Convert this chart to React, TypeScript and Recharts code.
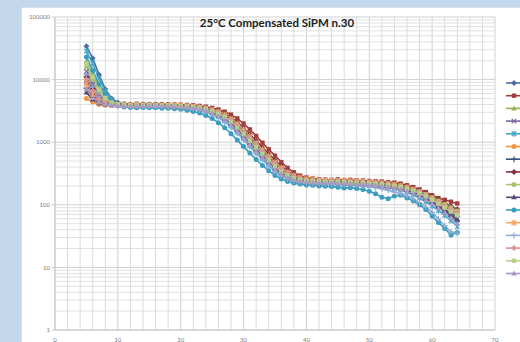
import React from "react";
import {
  LineChart,
  Line,
  XAxis,
  YAxis,
  CartesianGrid,
  ReferenceLine,
  Legend,
} from "recharts";

// x positions (measurement index)
const xs = [
  5, 6, 7, 8, 9, 10, 11, 12, 13, 14, 15, 16, 17, 18, 19, 20, 21, 22, 23, 24,
  25, 26, 27, 28, 29, 30, 31, 32, 33, 34, 35, 36, 37, 38, 39, 40, 41, 42, 43, 44,
  45, 46, 47, 48, 49, 50, 51, 52, 53, 54, 55, 56, 57, 58, 59, 60, 61, 62, 63, 64,
];

const s1 = [34000, 22000, 12000, 7000, 5000, 4300, 4050, 3980, 3950, 4000, 3930, 3950, 3900, 3920, 3850, 3800, 3760, 3660, 3540, 3370, 3130, 2820, 2470, 2060, 1660, 1300, 1010, 790, 620, 495, 400, 330, 286, 262, 250, 244, 238, 236, 230, 233, 228, 231, 226, 224, 222, 216, 214, 208, 204, 196, 188, 176, 160, 144, 126, 108, 92, 78, 66, 55];
const s2 = [9000, 6000, 4800, 4300, 4150, 4100, 4080, 4050, 4100, 4040, 4060, 4020, 4050, 4000, 3990, 3960, 3930, 3880, 3800, 3690, 3530, 3330, 3070, 2760, 2400, 1990, 1600, 1260, 980, 770, 610, 480, 390, 330, 292, 272, 262, 256, 252, 250, 254, 248, 250, 246, 244, 240, 238, 235, 230, 226, 218, 205, 192, 176, 160, 142, 128, 120, 112, 105];
const s3 = [19500, 12000, 7500, 5200, 4400, 4100, 4000, 3960, 3990, 3940, 3970, 3920, 3930, 3900, 3880, 3860, 3800, 3730, 3630, 3490, 3300, 3050, 2720, 2340, 1940, 1550, 1220, 950, 750, 590, 470, 385, 325, 290, 270, 258, 253, 250, 246, 248, 243, 245, 240, 241, 236, 232, 230, 224, 220, 213, 205, 194, 180, 164, 147, 129, 112, 96, 82, 70];
const s4 = [13500, 8500, 5800, 4600, 4100, 3950, 3880, 3870, 3840, 3860, 3830, 3850, 3800, 3790, 3760, 3720, 3660, 3580, 3460, 3290, 3060, 2760, 2420, 2030, 1630, 1280, 1000, 785, 620, 490, 392, 325, 280, 256, 244, 236, 232, 230, 226, 228, 224, 225, 221, 220, 217, 214, 210, 206, 200, 194, 186, 176, 162, 146, 130, 113, 98, 84, 71, 60];
const s5 = [28500, 18000, 10500, 6500, 4800, 4100, 3850, 3820, 3800, 3780, 3790, 3760, 3750, 3720, 3700, 3650, 3580, 3480, 3340, 3130, 2870, 2550, 2190, 1810, 1440, 1130, 880, 690, 545, 432, 352, 298, 265, 246, 236, 230, 226, 222, 220, 218, 216, 218, 213, 212, 208, 204, 200, 195, 189, 181, 172, 160, 145, 128, 112, 96, 81, 68, 56, 45];
const s6 = [5000, 4400, 4000, 3880, 3850, 3870, 3900, 3880, 3910, 3870, 3900, 3860, 3880, 3840, 3830, 3790, 3740, 3670, 3560, 3410, 3210, 2940, 2600, 2220, 1820, 1440, 1130, 880, 695, 550, 440, 360, 308, 275, 258, 250, 246, 243, 240, 242, 238, 236, 237, 232, 230, 226, 223, 218, 213, 206, 198, 188, 174, 159, 142, 125, 109, 96, 85, 75];
const s7 = [7300, 5200, 4400, 4100, 3960, 3920, 3900, 3930, 3880, 3900, 3870, 3880, 3850, 3830, 3800, 3770, 3710, 3640, 3520, 3370, 3160, 2880, 2540, 2150, 1750, 1380, 1080, 845, 665, 525, 420, 345, 297, 268, 253, 245, 240, 238, 234, 236, 232, 230, 231, 227, 224, 221, 217, 212, 207, 200, 192, 181, 167, 152, 135, 118, 102, 88, 75, 65];
const s8 = [11000, 7000, 5000, 4350, 4100, 4030, 4000, 4020, 3980, 4010, 3970, 3990, 3950, 3940, 3920, 3890, 3840, 3780, 3690, 3560, 3380, 3150, 2850, 2490, 2090, 1700, 1340, 1050, 820, 650, 515, 415, 345, 302, 277, 263, 256, 252, 249, 247, 249, 244, 245, 241, 238, 235, 231, 227, 222, 215, 207, 196, 183, 168, 152, 136, 120, 107, 95, 85];
const s9 = [16000, 10000, 6500, 4900, 4250, 4050, 3980, 3950, 3970, 3930, 3950, 3910, 3920, 3880, 3870, 3840, 3790, 3710, 3610, 3460, 3260, 3000, 2670, 2290, 1890, 1500, 1180, 920, 725, 572, 455, 372, 316, 282, 263, 253, 248, 246, 242, 244, 240, 241, 238, 236, 233, 229, 226, 221, 216, 209, 201, 191, 178, 163, 147, 131, 116, 102, 90, 80];
const s10 = [6200, 4800, 4200, 3980, 3900, 3870, 3860, 3840, 3870, 3830, 3850, 3820, 3810, 3790, 3760, 3710, 3650, 3560, 3430, 3250, 3010, 2700, 2350, 1960, 1570, 1230, 960, 755, 595, 472, 380, 316, 275, 252, 240, 234, 230, 227, 225, 222, 223, 219, 218, 215, 212, 209, 205, 200, 195, 188, 180, 170, 156, 141, 125, 109, 94, 81, 69, 58];
const s11 = [23000, 14000, 8500, 5800, 4500, 3900, 3650, 3600, 3560, 3600, 3540, 3550, 3500, 3480, 3430, 3350, 3240, 3100, 2920, 2680, 2390, 2050, 1700, 1370, 1080, 850, 670, 530, 425, 350, 295, 258, 235, 222, 214, 208, 205, 200, 197, 196, 190, 186, 188, 182, 176, 165, 150, 132, 125, 138, 142, 128, 115, 100, 84, 66, 52, 42, 33, 36];
const s12 = [8500, 5800, 4600, 4200, 4020, 3970, 3950, 3960, 3930, 3950, 3920, 3940, 3900, 3890, 3870, 3840, 3790, 3720, 3620, 3490, 3300, 3060, 2750, 2380, 1980, 1590, 1250, 975, 765, 605, 480, 392, 330, 293, 272, 260, 254, 250, 247, 249, 244, 246, 242, 240, 236, 233, 228, 224, 218, 211, 202, 190, 176, 160, 143, 126, 110, 95, 82, 70];
const s13 = [12000, 7600, 5300, 4300, 3950, 3800, 3760, 3740, 3770, 3730, 3740, 3710, 3700, 3670, 3640, 3590, 3510, 3410, 3260, 3050, 2790, 2470, 2110, 1740, 1390, 1090, 850, 665, 525, 418, 342, 290, 258, 240, 230, 224, 220, 217, 215, 212, 213, 209, 208, 204, 200, 195, 188, 180, 170, 160, 150, 138, 124, 108, 92, 76, 60, 46, 37, 35];
const s14 = [10000, 6600, 4900, 4250, 4000, 3920, 3900, 3920, 3880, 3910, 3870, 3890, 3860, 3850, 3830, 3800, 3750, 3680, 3580, 3440, 3240, 2980, 2650, 2270, 1870, 1490, 1170, 915, 720, 570, 455, 372, 315, 282, 263, 253, 249, 245, 243, 240, 242, 238, 237, 234, 231, 228, 224, 219, 213, 206, 198, 187, 174, 158, 141, 124, 108, 95, 84, 75];
const s15 = [18000, 11000, 7000, 5100, 4300, 4000, 3920, 3900, 3930, 3890, 3900, 3870, 3880, 3840, 3820, 3780, 3720, 3640, 3520, 3360, 3130, 2840, 2500, 2100, 1700, 1340, 1050, 820, 645, 510, 410, 338, 292, 265, 251, 243, 239, 236, 234, 231, 233, 229, 228, 226, 223, 219, 216, 211, 206, 199, 191, 180, 167, 152, 136, 120, 104, 90, 78, 68];
const s16 = [7000, 5100, 4300, 4000, 3880, 3830, 3810, 3800, 3820, 3790, 3800, 3770, 3760, 3740, 3710, 3660, 3600, 3500, 3370, 3180, 2940, 2630, 2280, 1890, 1510, 1180, 920, 725, 572, 455, 368, 308, 270, 249, 238, 232, 228, 226, 223, 224, 220, 221, 217, 215, 211, 207, 203, 198, 192, 185, 176, 165, 151, 136, 120, 104, 89, 75, 62, 50];

const seriesValues = [s1, s2, s3, s4, s5, s6, s7, s8, s9, s10, s11, s12, s13, s14, s15, s16];
const seriesNames = [
  "ch 1", "ch 2", "ch 3", "ch 4", "ch 5", "ch 6", "ch 7", "ch 8",
  "ch 9", "ch 10", "ch 11", "ch 12", "ch 13", "ch 14", "ch 15", "ch 16",
];

const yTicks = [1, 10, 100, 1000, 10000, 100000];
const yMinor = [
  2, 3, 4, 5, 6, 7, 8, 9,
  20, 30, 40, 50, 60, 70, 80, 90,
  200, 300, 400, 500, 600, 700, 800, 900,
  2000, 3000, 4000, 5000, 6000, 7000, 8000, 9000,
  20000, 30000, 40000, 50000, 60000, 70000, 80000, 90000,
];
const xTicks = [0, 10, 20, 30, 40, 50, 60, 70];
const xMinor = [
  2, 4, 6, 8, 12, 14, 16, 18, 22, 24, 26, 28, 32, 34, 36, 38,
  42, 44, 46, 48, 52, 54, 56, 58, 62, 64, 66, 68,
];

// styling (Excel-like palette + marker cycle)
const COLORS = [
  "#4A6FA5", "#A0403D", "#93B35A", "#7A62A0", "#47A8C4", "#F09545",
  "#34577F", "#7F3340", "#A9C470", "#594878", "#3A9DBF", "#F4A565",
  "#92ACD4", "#D79593", "#B9CF8C", "#A898C4",
];
const SHAPES = [
  "diamond", "square", "triangle", "x", "star", "circle", "plus",
  "diamond", "square", "triangle", "circle", "star", "plus", "diamond", "square", "triangle",
];

const rows = xs.map((x, i) => {
  const r: Record<string, number> = { x };
  seriesValues.forEach((vals, k) => {
    r[`s${k + 1}`] = vals[i];
  });
  return r;
});

function markerShape(shape: string, cx: number, cy: number, color: string, key?: string) {
  switch (shape) {
    case "diamond":
      return <polygon key={key} points={`${cx},${cy - 3} ${cx + 3},${cy} ${cx},${cy + 3} ${cx - 3},${cy}`} fill={color} />;
    case "square":
      return <rect key={key} x={cx - 2.2} y={cy - 2.2} width={4.4} height={4.4} fill={color} />;
    case "triangle":
      return <polygon key={key} points={`${cx},${cy - 3} ${cx + 2.8},${cy + 2} ${cx - 2.8},${cy + 2}`} fill={color} />;
    case "x":
      return (
        <g key={key} stroke={color} strokeWidth={1.2}>
          <line x1={cx - 2.3} y1={cy - 2.3} x2={cx + 2.3} y2={cy + 2.3} />
          <line x1={cx - 2.3} y1={cy + 2.3} x2={cx + 2.3} y2={cy - 2.3} />
        </g>
      );
    case "star":
      return (
        <g key={key} stroke={color} strokeWidth={1.2}>
          <line x1={cx - 2.3} y1={cy - 2.3} x2={cx + 2.3} y2={cy + 2.3} />
          <line x1={cx - 2.3} y1={cy + 2.3} x2={cx + 2.3} y2={cy - 2.3} />
          <line x1={cx} y1={cy - 3} x2={cx} y2={cy + 3} />
        </g>
      );
    case "circle":
      return <circle key={key} cx={cx} cy={cy} r={2.5} fill={color} />;
    default:
      return (
        <g key={key} stroke={color} strokeWidth={1.2}>
          <line x1={cx - 3} y1={cy} x2={cx + 3} y2={cy} />
          <line x1={cx} y1={cy - 3} x2={cx} y2={cy + 3} />
        </g>
      );
  }
}

function makeDot(k: number) {
  return (props: any) => {
    const { cx, cy, index } = props;
    if (cx == null || cy == null) return <g key={`d${k}-${index}`} />;
    return markerShape(SHAPES[k], cx, cy, COLORS[k], `d${k}-${index}`);
  };
}

// legend: only the symbols fit inside the frame, the labels fall outside it
function LegendColumn(props: any) {
  const items = props.payload || [];
  return (
    <svg width={60} height={items.length * 12.7 + 8} style={{ display: "block" }}>
      {items.map((it: any, i: number) => {
        const y = 6 + i * 12.7;
        return (
          <g key={it.value}>
            <line x1={22} y1={y} x2={38} y2={y} stroke={COLORS[i]} strokeWidth={1.6} />
            {markerShape(SHAPES[i], 30, y, COLORS[i])}
          </g>
        );
      })}
    </svg>
  );
}

export default function App() {
  const axisTick = { fontSize: 6, fill: "#7a7a7a", fontFamily: "Lato, sans-serif" };
  return (
    <div
      style={{
        position: "fixed",
        left: 0,
        top: 0,
        width: 520,
        height: 342,
        overflow: "hidden",
        background: "#c3d8eb",
      }}
    >
      <div
        style={{
          position: "absolute",
          left: 21,
          top: 7,
          width: 520,
          height: 350,
          background: "#ffffff",
          borderLeft: "1px solid #d5e0ea",
          borderTop: "1px solid #d5e0ea",
        }}
      >
        <div
          style={{
            position: "absolute",
            left: 0,
            width: 510,
            top: 8,
            textAlign: "center",
            fontFamily: "Lato, sans-serif",
            fontWeight: 700,
            fontSize: 11.5,
            color: "#222",
            zIndex: 2,
          }}
        >
          25°C Compensated SiPM n.30
        </div>
        <LineChart
          width={498}
          height={335}
          data={rows}
          margin={{ top: 9, right: 25, bottom: 1, left: 3 }}
        >
          <CartesianGrid stroke="#cfcfcf" strokeWidth={1} />
          {yMinor.map((v) => (
            <ReferenceLine key={`ym${v}`} y={v} stroke="#e1e1e1" strokeWidth={1} />
          ))}
          {xMinor.map((v) => (
            <ReferenceLine key={`xm${v}`} x={v} stroke="#dcdcdc" strokeWidth={1} />
          ))}
          <XAxis
            dataKey="x"
            type="number"
            domain={[0, 70]}
            ticks={xTicks}
            height={12}
            tick={axisTick}
            tickLine={false}
            axisLine={{ stroke: "#c8c8c8" }}
            tickMargin={2}
          />
          <YAxis
            scale="log"
            domain={[1, 100000]}
            ticks={yTicks}
            allowDataOverflow
            width={30}
            tick={axisTick}
            tickLine={{ stroke: "#c8c8c8" }}
            tickSize={3}
            axisLine={{ stroke: "#c8c8c8" }}
          />
          <Legend
            layout="horizontal"
            align="center"
            verticalAlign="middle"
            content={<LegendColumn />}
            wrapperStyle={{ left: 462, top: 69, width: 60 }}
          />
          {seriesValues.map((_, k) => (
            <Line
              key={k}
              type="linear"
              dataKey={`s${k + 1}`}
              name={seriesNames[k]}
              stroke={COLORS[k]}
              strokeWidth={1.6}
              dot={makeDot(k)}
              activeDot={false}
              isAnimationActive={false}
            />
          ))}
        </LineChart>
      </div>
    </div>
  );
}
